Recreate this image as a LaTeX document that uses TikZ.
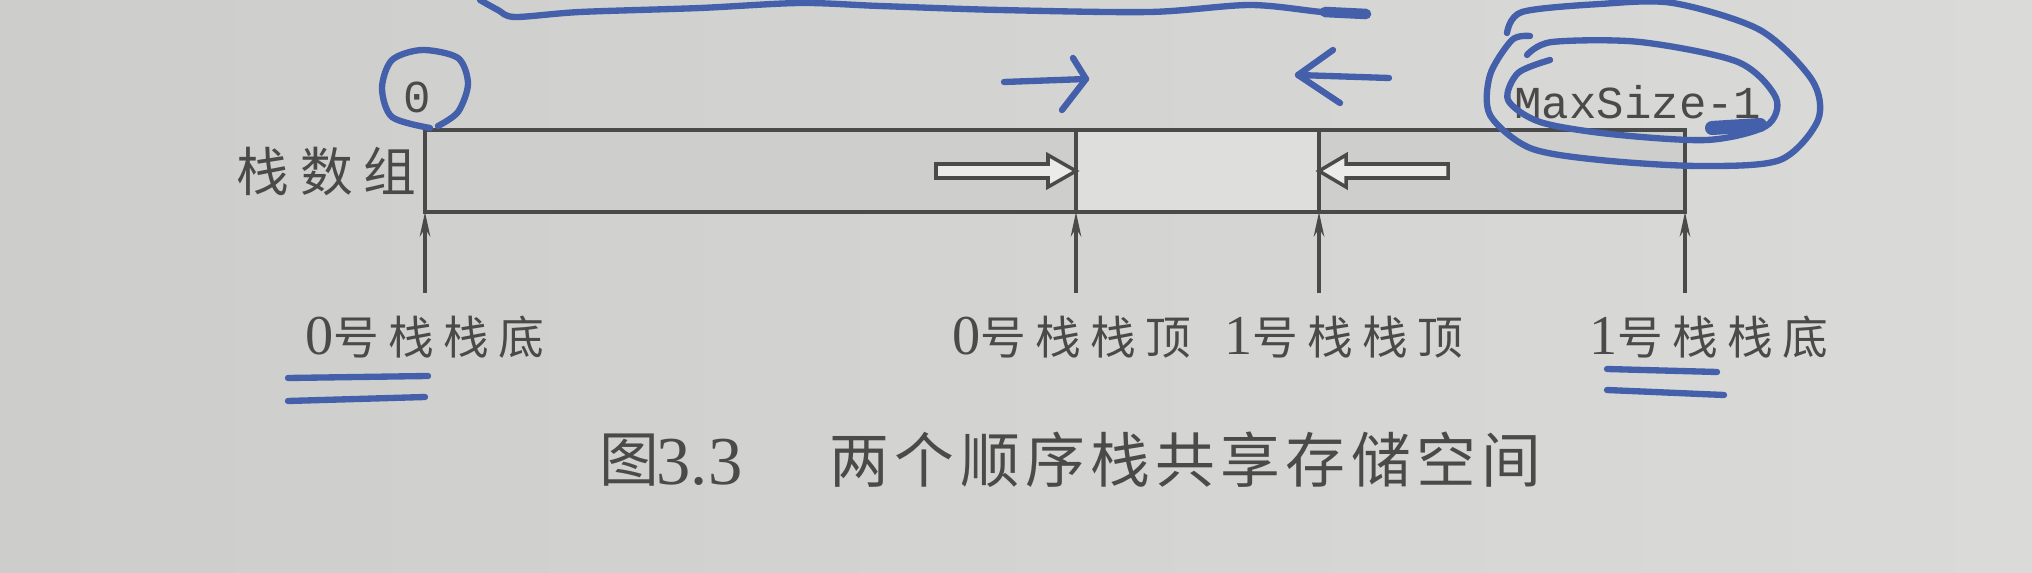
\documentclass[tikz,border=0pt]{standalone}
\usepackage{fontspec}
\setmainfont{Liberation Serif}
\setmonofont{Liberation Mono}
\newfontfamily\cjk[LetterSpace=20]{Noto Sans CJK SC}
\newfontfamily\cjkcap[LetterSpace=9]{Noto Sans CJK SC}
\usetikzlibrary{calc}
\usetikzlibrary{arrows.meta}
\definecolor{paperleft}{HTML}{CDCDCB}
\definecolor{paper}{HTML}{DEDEDC}
\definecolor{paperright}{HTML}{DADAD8}
\definecolor{cellbg}{HTML}{CECECD}
\definecolor{ink}{HTML}{4A4A4A}
\definecolor{bluepen}{HTML}{4560AA}

\begin{document}
\begin{tikzpicture}[x=0.01cm, y=-0.01cm,
cell/.style = {line width=1pt, draw=ink},
ptr/.style = {line width=0.9pt, draw=ink, -{Stealth[length=7pt,width=3pt]}},
hollow/.style = {line width=1pt, draw=ink, fill=paper!60!white},
lbl/.style = {text=ink, inner sep=0pt, font=\fontsize{13}{15}\selectfont\cjk},
caption/.style = {text=ink, inner sep=0pt, anchor=west, font=\fontsize{17}{20}\selectfont\cjkcap},
mono/.style = {text=ink, inner sep=0pt, font=\fontsize{13}{15}\selectfont\ttfamily},
handpen/.style = {line width=1.8pt, draw=bluepen, line cap=round, line join=round}
]
\useasboundingbox (0,0) rectangle (2032,573);
\shade[left color=paperleft, middle color=paper, right color=paperright] (0,0) rectangle (2032,573);

% the shared array
\coordinate (tl) at (425,130);
\coordinate (br) at (1685,212);
\coordinate (d0) at (1076,130);
\coordinate (d1) at (1319,130);
\fill[cellbg] (tl) rectangle (d0 |- br);
\fill[paper] (d0) rectangle (d1 |- br);
\fill[cellbg] (d1) rectangle (br);
\draw[cell] (tl) rectangle (br);
\draw[cell] (d0) -- (d0 |- br);
\draw[cell] (d1) -- (d1 |- br);

% growth directions
\draw[hollow] (936,164) -- (1048,164) -- (1048,155) -- (d0 |- 0,171)
  -- (1048,187) -- (1048,178) -- (936,178) -- cycle;
\draw[hollow] (1448,164) -- (1346,164) -- (1346,155) -- (d1 |- 0,171)
  -- (1346,187) -- (1346,178) -- (1448,178) -- cycle;

\node[mono] (zero) at (417,97) {0};
\node[mono] (maxsz) at (1638,102) {MaxSize-1};
\node[lbl, anchor=east, font=\fontsize{15}{17}\selectfont\cjk] (arr) at (417,172) {栈数组};

\node[lbl] (bot0) at (425,337) {{\rmfamily\fontsize{16}{18}\selectfont 0}号栈栈底};
\node[lbl] (top0) at (1072,337) {{\rmfamily\fontsize{16}{18}\selectfont 0}号栈栈顶};
\node[lbl] (top1) at (1344,337) {{\rmfamily\fontsize{16}{18}\selectfont 1}号栈栈顶};
\node[lbl] (bot1) at (1709,337) {{\rmfamily\fontsize{16}{18}\selectfont 1}号栈栈底};

\draw[ptr] ($(bot0.north -| tl)+(0,-22)$) -- (tl |- br);
\draw[ptr] ($(top0.north -| d0)+(0,-22)$) -- (d0 |- br);
\draw[ptr] ($(top1.north -| d1)+(0,-22)$) -- (d1 |- br);
\draw[ptr] ($(bot1.north -| br)+(0,-22)$) -- (br);

\node[caption] (capfig) at (599,460) {图};
\node[caption, font=\fontsize{19.5}{22}\selectfont\rmfamily] (capno) at (656,462) {3.3};
\node[caption] (cap) at (829,460) {两个顺序栈共享存储空间};

% pen marks
\draw[handpen] plot[smooth] coordinates {(480,0) (498,10) (515,17) (580,12) (700,8) (800,3) (880,6) (1000,10) (1150,12) (1250,5) (1322,12) (1366,14)};
\draw[handpen, line width=3pt] (1325,12) -- (1366,14);
\draw[handpen] plot[smooth] coordinates {(430,128) (392,117) (382,88) (392,60) (422,50) (458,58) (468,84) (458,112) (438,126)};
\draw[handpen] (1004,82) -- (1086,79);
\draw[handpen] (1073,58) -- (1086,79) -- (1062,110);
\draw[handpen] (1389,78) -- (1298,75);
\draw[handpen] (1333,50) -- (1298,75) -- (1340,103);
\draw[handpen] plot[smooth] coordinates {(1507,33) (1522,12) (1600,4) (1673,3) (1760,30) (1812,80) (1818,120) (1780,160) (1700,166) (1600,160) (1530,148) (1490,115) (1490,75) (1512,40) (1530,36)};
\draw[handpen] plot[smooth] coordinates {(1527,55) (1552,42) (1640,42) (1738,62) (1776,98) (1766,126) (1707,140) (1610,134) (1540,122) (1508,100) (1518,73) (1550,60)};
\draw[handpen, line width=4pt] (1712,128) -- (1760,125);
\draw[handpen] (288,378) -- (428,376);
\draw[handpen] (288,401) -- (425,397);
\draw[handpen] (1607,369) -- (1717,372);
\draw[handpen] (1607,390) -- (1724,395);
\end{tikzpicture}
\end{document}
